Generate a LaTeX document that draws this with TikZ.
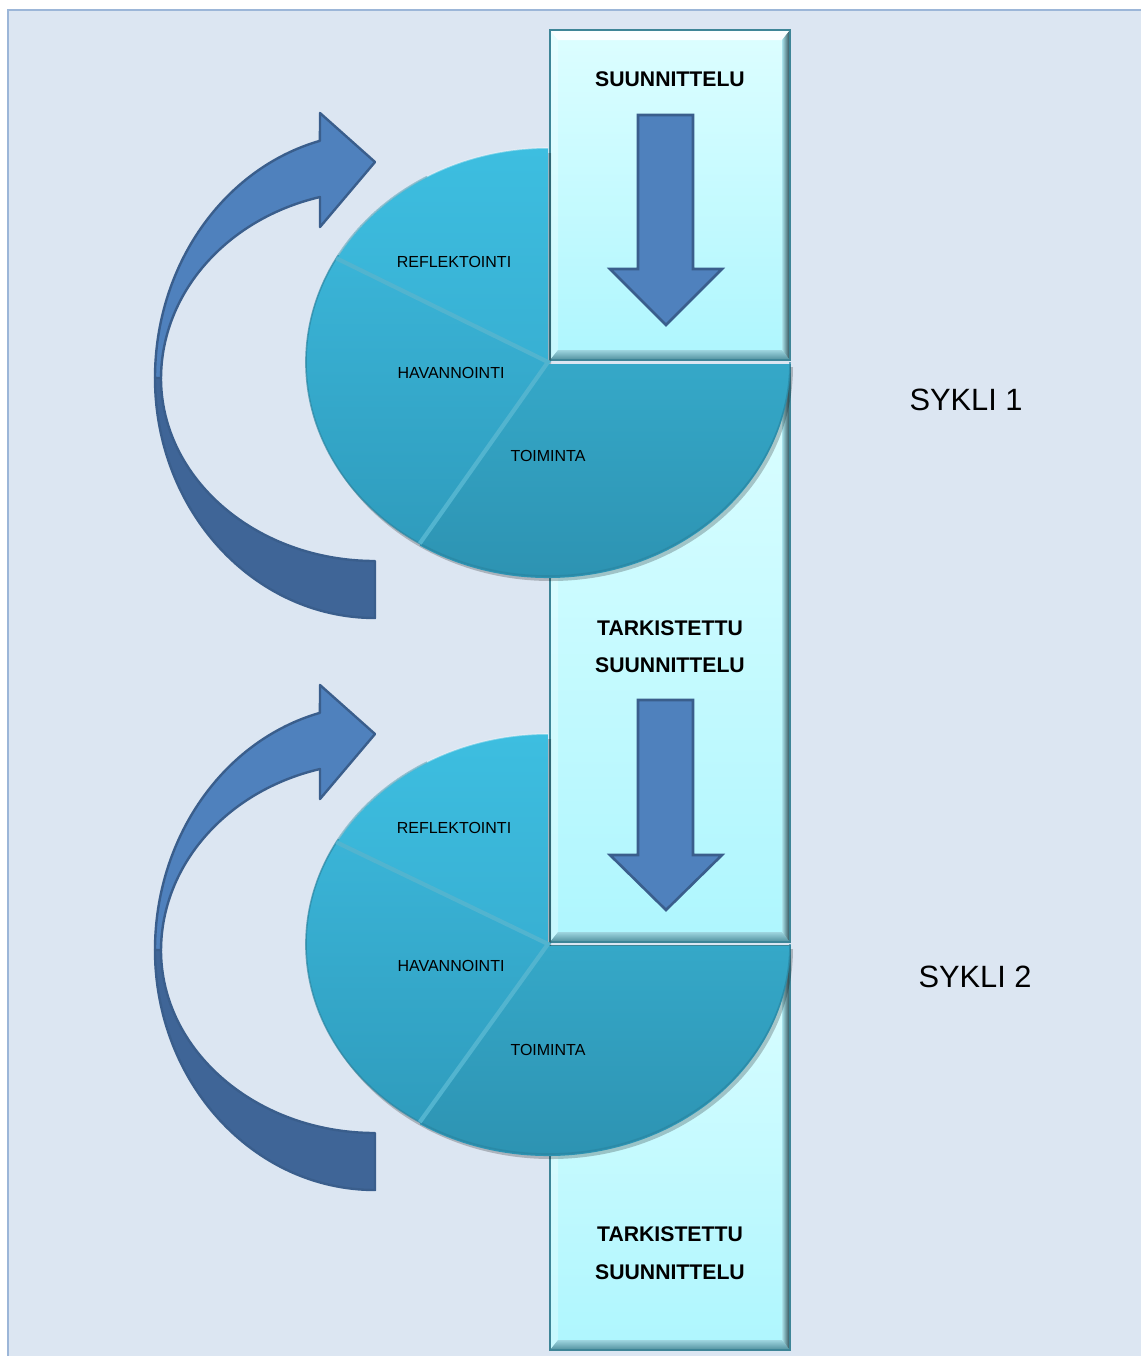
\documentclass[tikz,border=0pt]{standalone}
\usepackage{fontspec}
\setmainfont{Liberation Sans}
\definecolor{bgc}{HTML}{DCE6F2}
\definecolor{bgline}{HTML}{9CB6D8}
\definecolor{boxtop}{HTML}{DDFEFF}
\definecolor{boxbot}{HTML}{AEF6FE}
\definecolor{boxedge}{HTML}{3E8597}
\definecolor{bevlo1}{HTML}{9ED5DF}
\definecolor{bevlo2}{HTML}{4F8F9D}
\definecolor{bevr1}{HTML}{A9E3EB}
\definecolor{bevr2}{HTML}{2A454D}
\definecolor{arrfill}{HTML}{4F81BD}
\definecolor{arrdark}{HTML}{3F6597}
\definecolor{arrline}{HTML}{3A5E8C}
\definecolor{pieA}{HTML}{3DBEE0}
\definecolor{pieB}{HTML}{38B0D3}
\definecolor{pieC}{HTML}{3AB4D7}
\definecolor{pieD}{HTML}{2F9CBD}
\definecolor{pieE}{HTML}{35A8C8}
\definecolor{pieF}{HTML}{2C90AF}
\definecolor{pieSep}{HTML}{52B4CF}
\definecolor{pieRim}{HTML}{2A86A2}

% bevelled column box: name, x1, y1, x2, y2 (pixel units, y measured downwards)
\newcommand{\bevbox}[5]{%
  \path[top color=boxtop, bottom color=boxbot] (#2,-#3) rectangle (#4,-#5);
  \fill[white, opacity=.3] (#2,-#3) -- (#2,-#5) -- ({#2+8},{-#5+9}) -- ({#2+8},{-#3-9}) -- cycle;
  \fill[white, opacity=.9] (#2,-#3) -- (#4,-#3) -- ({#4-8},{-#3-10}) -- ({#2+8},{-#3-10}) -- cycle;
  \shade[top color=bevlo1, bottom color=bevlo2] (#2,-#5) -- (#4,-#5) -- ({#4-8},{-#5+10}) -- ({#2+8},{-#5+10}) -- cycle;
  \shade[left color=bevr1, right color=bevr2] (#4,-#3) -- (#4,-#5) -- ({#4-8},{-#5+10}) -- ({#4-8},{-#3-10}) -- cycle;
  \draw[boxedge, line width=.7pt] (#2,-#3) rectangle (#4,-#5);
  \coordinate (#1) at ({(#2+#4)/2},{-(#3+#5)/2});
}

% pie chart of one cycle, centred at (548,-#1), vertical radius #2 (px)
\newcommand{\cyclepie}[3]{%
  \begin{scope}[shift={(548,-#1)}]
    \fill[black, opacity=.22] (3,-5) -- ++(0,#2) arc[start angle=90, end angle=360, x radius=121pt, y radius={#2*0.5pt}] -- cycle;
    \path[top color=pieA, bottom color=pieB] (0,0) -- (0,#2)
      arc[start angle=90, end angle=151, x radius=121pt, y radius={#2*0.5pt}] -- cycle;
    \path[top color=pieC, bottom color=pieD] (0,0) -- ({242*cos(151)},{#2*sin(151)})
      arc[start angle=151, end angle=238, x radius=121pt, y radius={#2*0.5pt}] -- cycle;
    \path[top color=pieE, bottom color=pieF] (0,-2) -- ({242*cos(238)},{-2+#2*sin(238)})
      arc[start angle=238, end angle=360, x radius=121pt, y radius={#2*0.5pt}] -- cycle;
    \draw[pieRim, opacity=.7, line width=.8pt] ({242*cos(120)},{#2*sin(120)})
      arc[start angle=120, end angle=360, x radius=121pt, y radius={#2*0.5pt}];
    \draw[white, opacity=.35, line width=.8pt] (0,#2)
      arc[start angle=90, end angle=150, x radius=121pt, y radius={#2*0.5pt}];
    \draw[pieSep, line width=2.1pt] ({242*cos(151)},{#2*sin(151)}) -- (0,0)
      -- ({242*cos(238)},{#2*sin(238)});
    \coordinate (#3) at (0,0);
  \end{scope}
}

% curved return arrow, shifted down by #1 px
\newcommand{\returnarrow}[1]{%
  \begin{scope}[shift={(0,-#1)}]
    \path[fill=arrfill, draw=arrline, line width=1.2pt, line join=round]
      (155,-378) arc[start angle=180, end angle=104.5, x radius=110pt, y radius=122.5pt]
      -- (320,-113) -- (375,-162) -- (320,-227) -- (320,-197)
      arc[start angle=104.9, end angle=180, x radius=107pt, y radius=94pt] -- cycle;
    \path[fill=arrdark, draw=arrline, line width=1.2pt, line join=round]
      (155,-378) arc[start angle=180, end angle=270, x radius=110pt, y radius=120pt]
      -- (375,-561)
      arc[start angle=270, end angle=180, x radius=107pt, y radius=91.5pt] -- cycle;
  \end{scope}
}

% straight downward arrow inside a column box: top at #1, head at #2, tip at #3
\newcommand{\downarr}[3]{%
  \path[fill=arrfill, draw=arrline, line width=1.3pt, line join=miter]
    (638,-#1) -- (693,-#1) -- (693,-#2) -- (722,-#2) -- (666,-#3)
    -- (610,-#2) -- (638,-#2) -- cycle;
}

\tikzset{
  boldlbl/.style={font=\fontsize{10.6pt}{12pt}\selectfont\bfseries, inner sep=0pt},
  slicelbl/.style={font=\fontsize{8pt}{9.6pt}\selectfont, inner sep=0pt},
  cyclelbl/.style={font=\fontsize{15.4pt}{18pt}\selectfont, inner sep=0pt}
}

\begin{document}
\begin{tikzpicture}[x=0.5pt, y=0.5pt]
  \useasboundingbox (0,0) rectangle (1141,-1356);
  % page background
  \fill[white] (0,0) rectangle (1141,-1356);
  \fill[bgc] (8,-10) rectangle (1141,-1356);
  \draw[bgline, line width=1pt] (8,-1356) -- (8,-10) -- (1141,-10);

  % column of planning boxes
  \bevbox{box1}{550}{30}{790}{360}
  \bevbox{box2}{550}{365}{790}{942}
  \bevbox{box3}{550}{946}{790}{1350}

  \downarr{115}{269}{325}
  \downarr{700}{855}{910}

  \node[boldlbl] (plan1) at (670,-79) {SUUNNITTELU};
  \node[boldlbl] (rev1a) at (670,-628) {TARKISTETTU};
  \node[boldlbl] (rev1b) at (670,-665) {SUUNNITTELU};
  \node[boldlbl] (rev2a) at (670,-1234) {TARKISTETTU};
  \node[boldlbl] (rev2b) at (670,-1272) {SUUNNITTELU};

  % cycle pies
  \cyclepie{362}{214}{pie1}
  \cyclepie{944}{210}{pie2}

  \node[slicelbl] (refl1) at (454,-262) {REFLEKTOINTI};
  \node[slicelbl] (hav1)  at (451,-373) {HAVANNOINTI};
  \node[slicelbl] (toim1) at (548,-456) {TOIMINTA};
  \node[slicelbl] (refl2) at (454,-828) {REFLEKTOINTI};
  \node[slicelbl] (hav2)  at (451,-966) {HAVANNOINTI};
  \node[slicelbl] (toim2) at (548,-1050) {TOIMINTA};

  % return arrows
  \returnarrow{0}
  \returnarrow{572}

  \node[cyclelbl] (cyc1) at (966,-400) {SYKLI 1};
  \node[cyclelbl] (cyc2) at (975,-977) {SYKLI 2};
\end{tikzpicture}
\end{document}
